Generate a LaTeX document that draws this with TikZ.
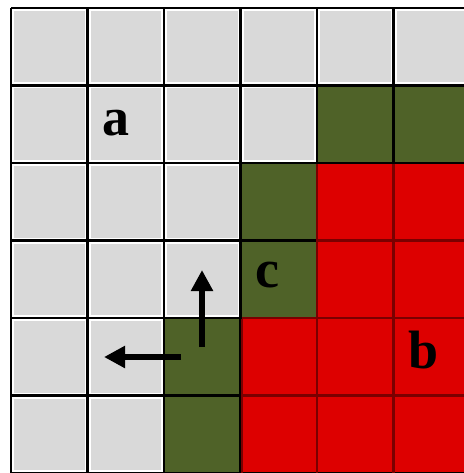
\documentclass[tikz,border=0pt]{standalone}
\usepackage{fontspec}
\setmainfont{Liberation Serif}
\usetikzlibrary{arrows.meta}
\definecolor{cellgray}{HTML}{D9D9D9}
\definecolor{cellgreen}{HTML}{4F6228}
\definecolor{cellred}{HTML}{DD0000}
\definecolor{linered}{HTML}{7A0000}
\def\cG{g}\def\cV{v}
\begin{document}
\begin{tikzpicture}[x=1pt,y=-1pt,
  gcell/.style={fill=cellgray,draw=white,line width=1.2pt},
  vcell/.style={fill=cellgreen,draw=none},
  rcell/.style={fill=cellred,draw=none},
  lbl/.style={font=\fontsize{54}{54}\selectfont\bfseries,inner sep=0pt},
  arr/.style={line width=6pt,-{Triangle[length=21pt,width=21pt]}}]
\useasboundingbox (0,0) rectangle (463,473);
\def\Xo{11}\def\Yo{8}\def\DX{76.5}\def\DY{77.5}
% cell map: g = gray, v = green, r = red
\foreach \row [count=\j from 0] in {{g,g,g,g,g,g},{g,g,g,g,v,v},{g,g,g,v,r,r},{g,g,g,v,r,r},{g,g,v,r,r,r},{g,g,v,r,r,r}}{
  \foreach \t [count=\i from 0] in \row {
    \pgfmathsetmacro\xl{\Xo+\i*\DX}
    \pgfmathsetmacro\yt{\Yo+\j*\DY}
    \ifx\t\cG
      \path[gcell] (\xl+2.4,\yt+2.4) rectangle (\xl+\DX-2.4,\yt+\DY-2.4);
    \else\ifx\t\cV
      \path[vcell] (\xl,\yt) rectangle (\xl+\DX,\yt+\DY);
    \else
      \path[rcell] (\xl,\yt) rectangle (\xl+\DX,\yt+\DY);
    \fi\fi
  }
}
% grid lines
\foreach \i in {0,...,6}{
  \draw[black,line width=2.6pt] (\Xo+\i*\DX,\Yo) -- (\Xo+\i*\DX,\Yo+6*\DY);
  \draw[black,line width=2.6pt] (\Xo,\Yo+\i*\DY) -- (\Xo+6*\DX,\Yo+\i*\DY);
}
% darker red lines inside the red area
\draw[linered,line width=2.6pt] (\Xo+4*\DX,\Yo+2*\DY+1.3) -- (\Xo+4*\DX,\Yo+6*\DY);
\draw[linered,line width=2.6pt] (\Xo+5*\DX,\Yo+2*\DY+1.3) -- (\Xo+5*\DX,\Yo+6*\DY);
\draw[linered,line width=2.6pt] (\Xo+4*\DX+1.3,\Yo+3*\DY) -- (\Xo+6*\DX,\Yo+3*\DY);
\draw[linered,line width=2.6pt] (\Xo+3*\DX+1.3,\Yo+5*\DY) -- (\Xo+6*\DX,\Yo+5*\DY);
\draw[linered,line width=2.6pt] (\Xo+3*\DX+1.3,\Yo+4*\DY+1.3) -- (\Xo+3*\DX+1.3,\Yo+6*\DY);
\draw[linered,line width=2.6pt] (\Xo+3*\DX+1.3,\Yo+4*\DY) -- (\Xo+6*\DX,\Yo+4*\DY);
% labels
\node[lbl] (la) at (116,123) {a};
\node[lbl] (lc) at (267,275) {c};
\node[lbl] (lb) at (424,350) {b};
% arrows
\coordinate (upS) at (202,347);
\coordinate (upE) at (202,270);
\coordinate (lfS) at (181,357);
\coordinate (lfE) at (104,357);
\draw[arr] (upS) -- (upE);
\draw[arr] (lfS) -- (lfE);
\end{tikzpicture}
\end{document}
